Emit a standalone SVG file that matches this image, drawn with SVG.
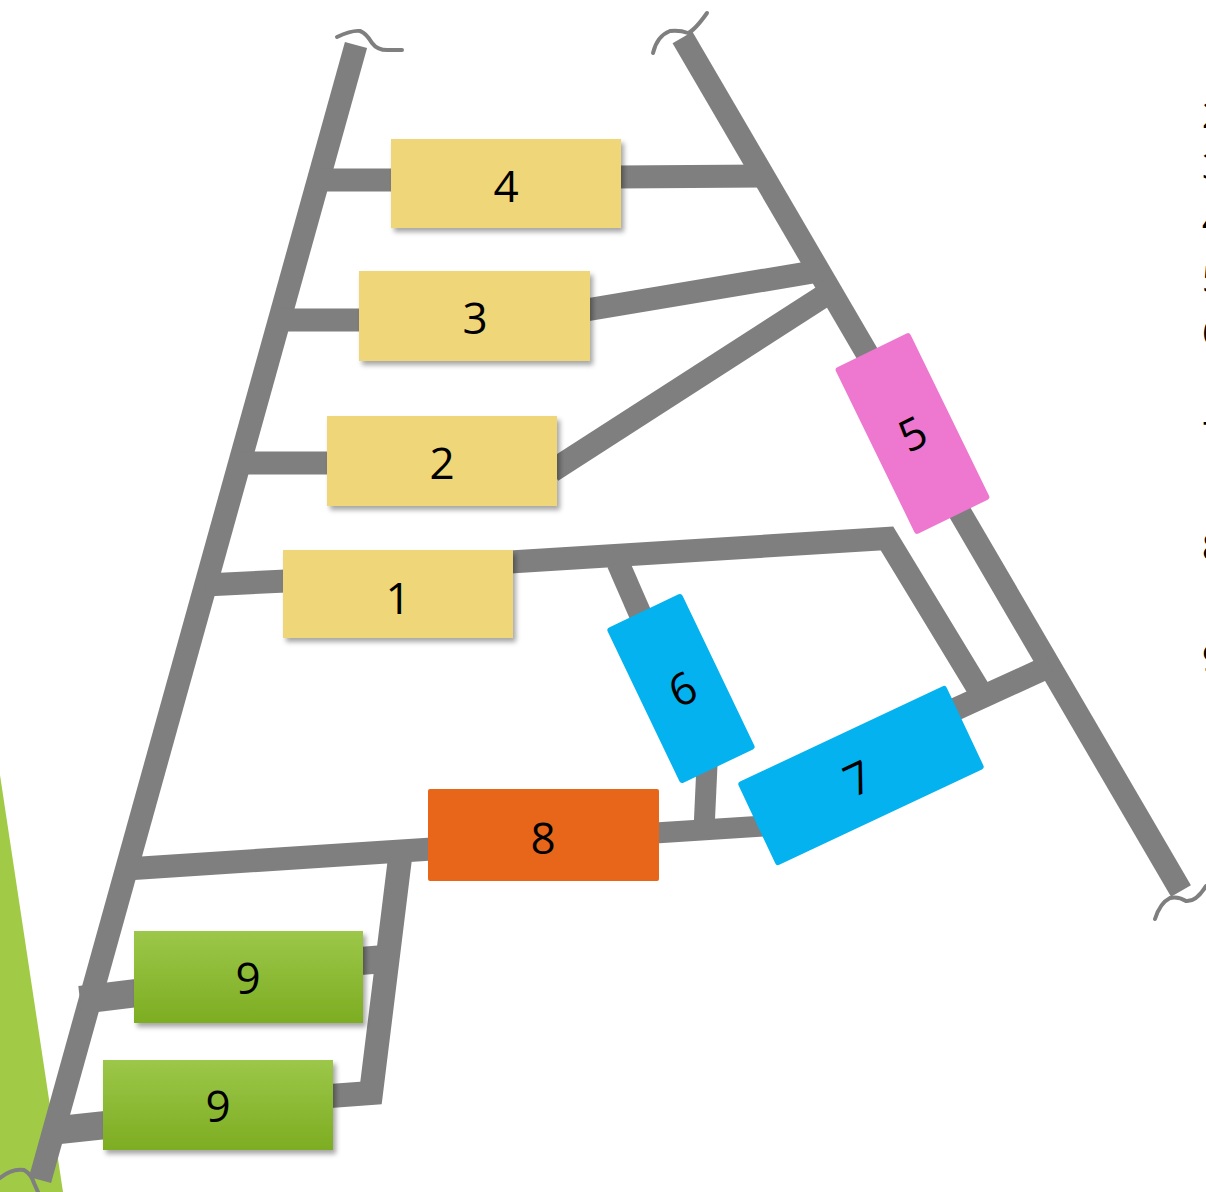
<svg xmlns="http://www.w3.org/2000/svg" width="1206" height="1192" viewBox="0 0 1206 1192">
  <defs>
    <filter id="shadow" x="-10%" y="-10%" width="130%" height="140%">
      <feDropShadow dx="3" dy="4" stdDeviation="2.5" flood-color="#000" flood-opacity="0.35"/>
    </filter>
    <linearGradient id="greenFill" x1="0" y1="0" x2="0" y2="1">
      <stop offset="0" stop-color="#9CC749"/>
      <stop offset="1" stop-color="#7DAD22"/>
    </linearGradient>
    <style>
      .rail { stroke: #7F7F7F; stroke-width: 23; fill: none; stroke-linecap: butt; }
      .rung { stroke: #7F7F7F; stroke-width: 23; fill: none; stroke-linecap: butt; stroke-linejoin: miter; }
      .brk { stroke: #7F7F7F; stroke-width: 4; fill: none; stroke-linecap: round; }
      .lbl { font-family: "Open Sans", "Noto Sans", "Liberation Sans", sans-serif; font-size: 44px; fill: #000; text-anchor: middle; }
      .yellow { fill: #EED679; filter: url(#shadow); }
      .green { fill: url(#greenFill); filter: url(#shadow); }
      .pink { fill: #EE77CF; }
      .blue { fill: #03B2EF; }
      .orange { fill: #E8661A; }
      .edge { font-family: "Open Sans", "Noto Sans", "Liberation Sans", sans-serif; font-size: 36px; fill: #000; }
    </style>
  </defs>

  <rect width="1206" height="1192" fill="#FFFFFF"/>

  <!-- green wedge on the left margin -->
  <polygon points="0,775 63,1192 0,1192" fill="#A1CB47"/>

  <!-- the two side rails and their break marks -->
  <g id="rails">
    <line class="rail" x1="356" y1="45" x2="40" y2="1180"/>
    <line class="rail" x1="682.5" y1="37.5" x2="1181" y2="891"/>
    <path class="brk" d="M337,37 Q352,30 360,31 Q366,33 372,43 Q378,51 390,50 L402,50"/>
    <path class="brk" d="M653,53 Q657,36 670,31 Q680,30 688,33 Q695,30 707,13"/>
    <path class="brk" d="M1155,919 Q1160,903 1170,898 Q1178,896 1186,901 Q1196,902 1206,886"/>
    <path class="brk" d="M0,1178 Q12,1168 24,1170 Q31,1174 34,1183 L38,1192"/>
  </g>

  <!-- rungs and branches -->
  <g id="connectors">
    <line class="rung" x1="318" y1="180" x2="395" y2="180"/>
    <line class="rung" x1="617" y1="177" x2="764" y2="176"/>
    <line class="rung" x1="278" y1="320" x2="362" y2="320"/>
    <line class="rung" x1="586" y1="310" x2="819" y2="271"/>
    <line class="rung" x1="238" y1="463" x2="330" y2="463"/>
    <line class="rung" x1="552" y1="471" x2="830" y2="292"/>
    <line class="rung" x1="205" y1="585" x2="286" y2="581"/>
    <polyline class="rung" points="510,562 887,538.5 979,690"/>
    <line class="rung" x1="945" y1="714" x2="1050" y2="666"/>
    <line class="rung" x1="618" y1="563" x2="645" y2="625"/>
    <line class="rung" x1="707" y1="765" x2="704" y2="830" style="stroke-width:21"/>
    <line class="rung" x1="126" y1="869" x2="432" y2="849"/>
    <line class="rung" x1="655" y1="833" x2="765" y2="826" style="stroke-width:21"/>
    <polyline class="rung" points="401,850 371,1093 330,1096" style="stroke-width:24"/>
    <line class="rung" x1="360" y1="961" x2="385" y2="959" style="stroke-width:28"/>
    <line class="rung" x1="80" y1="1000" x2="137" y2="993" style="stroke-width:28"/>
    <line class="rung" x1="50" y1="1131" x2="106" y2="1125" style="stroke-width:28"/>
  </g>

  <!-- nodes -->
  <g id="node4">
    <rect class="yellow" x="391" y="139" width="230" height="89"/>
    <text class="lbl" x="506" y="202">4</text>
  </g>
  <g id="node3">
    <rect class="yellow" x="359" y="271" width="231" height="90"/>
    <text class="lbl" x="475" y="334">3</text>
  </g>
  <g id="node2">
    <rect class="yellow" x="327" y="416" width="230" height="90"/>
    <text class="lbl" x="442" y="479">2</text>
  </g>
  <g id="node1">
    <rect class="yellow" x="283" y="550" width="230" height="88"/>
    <text class="lbl" x="398" y="614">1</text>
  </g>
  <g id="node5" transform="translate(912.5,433.5) rotate(-26)">
    <rect class="pink" x="-41.5" y="-92.5" width="83" height="185" rx="3"/>
    <text class="lbl" x="0" y="16">5</text>
  </g>
  <g id="node6" transform="translate(681,688.5) rotate(-25.6)">
    <rect class="blue" x="-41.5" y="-86" width="83" height="172" rx="3"/>
    <text class="lbl" x="1" y="17">6</text>
  </g>
  <g id="node7" transform="translate(861,775.5) rotate(-25.2)">
    <rect class="blue" x="-115" y="-46" width="230" height="92" rx="3"/>
    <text class="lbl" x="-4" y="17">7</text>
  </g>
  <g id="node8">
    <rect class="orange" x="428" y="789" width="231" height="92" rx="2"/>
    <text class="lbl" x="543" y="854">8</text>
  </g>
  <g id="node9a">
    <rect class="green" x="134" y="931" width="229" height="92"/>
    <text class="lbl" x="248" y="994">9</text>
  </g>
  <g id="node9b">
    <rect class="green" x="103" y="1060" width="230" height="90"/>
    <text class="lbl" x="218" y="1122">9</text>
  </g>

  <!-- list column running off the right edge -->
  <g id="edge-list">
    <text class="edge" x="1202" y="128">2</text>
    <text class="edge" x="1202" y="179">3</text>
    <text class="edge" x="1202" y="234">4</text>
    <text class="edge" x="1202" y="292">5</text>
    <text class="edge" x="1202" y="345">6</text>
    <text class="edge" x="1202" y="448">7</text>
    <text class="edge" x="1202" y="560">8</text>
    <text class="edge" x="1202" y="671">9</text>
  </g>
</svg>
